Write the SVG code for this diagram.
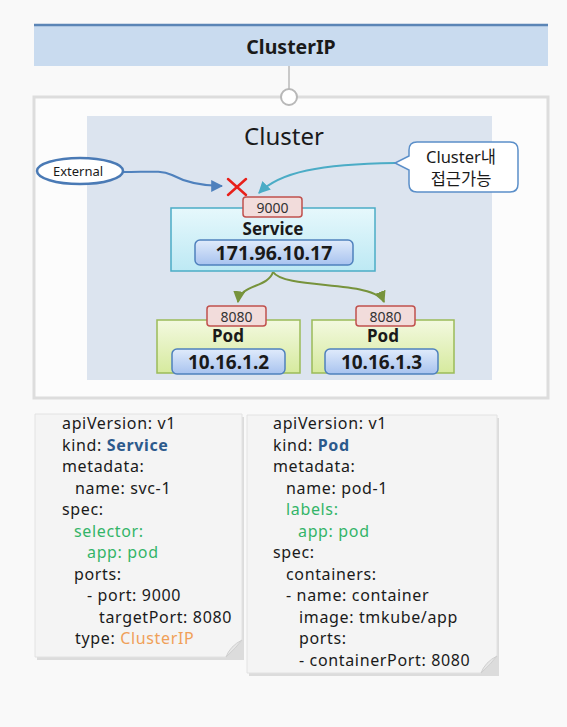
<svg xmlns="http://www.w3.org/2000/svg" width="567" height="727" viewBox="0 0 567 727">
<defs>
<style>
.t{font-family:"Noto Sans","Open Sans","Noto Sans CJK KR",sans-serif;fill:#1a1a1a}
.b{font-weight:bold}
.port{fill:#f2dcdb;stroke:#c0504d;stroke-width:1.5}
.porttxt{font-family:"Noto Sans",sans-serif;font-size:14px;fill:#333;text-anchor:middle}
.ip{stroke:#4f81bd;stroke-width:1.5}
.code{font-family:"Noto Sans","Open Sans",sans-serif;font-size:16px;letter-spacing:0.65px;fill:#1a1a1a}
.kw{fill:#2c5a8c;font-weight:bold}
.gr{fill:#33b468}
.or{fill:#f0a058}
.note{fill:#f4f4f4;stroke:#e2e2e2;stroke-width:1}
</style>
<linearGradient id="gSvc" x1="0" y1="0" x2="0" y2="1"><stop offset="0" stop-color="#e6f8fc"/><stop offset="1" stop-color="#bde9f4"/></linearGradient>
<linearGradient id="gIp" x1="0" y1="0" x2="0" y2="1"><stop offset="0" stop-color="#e0ebfb"/><stop offset="1" stop-color="#a8c3ef"/></linearGradient>
<linearGradient id="gPod" x1="0" y1="0" x2="0" y2="1"><stop offset="0" stop-color="#f3f9e0"/><stop offset="1" stop-color="#d6ea9e"/></linearGradient>
<marker id="aBlue" viewBox="0 0 10 10" refX="9" refY="5" markerWidth="6" markerHeight="6" orient="auto"><path d="M0,0 L10,5 L0,10 z" fill="#4f81bd"/></marker>
<marker id="aCyan" viewBox="0 0 10 10" refX="9" refY="5" markerWidth="6" markerHeight="6" orient="auto"><path d="M0,0 L10,5 L0,10 z" fill="#4bacc6"/></marker>
<marker id="aGreen" viewBox="0 0 10 10" refX="9" refY="5" markerWidth="6" markerHeight="6" orient="auto"><path d="M0,0 L10,5 L0,10 z" fill="#77933c"/></marker>
</defs>
<rect width="567" height="727" fill="#f9f9f9"/>

<g id="header">
<rect x="34" y="25" width="514" height="41" fill="#c9dbef"/>
<line x1="34" y1="25" x2="548" y2="25" stroke="#5b85b6" stroke-width="2.5"/>
<text class="t b" x="291" y="54" font-size="19.5" text-anchor="middle">ClusterIP</text>
</g>

<g id="outer">
<rect x="34" y="97" width="514" height="301" fill="#fcfcfc" stroke="#dddddd" stroke-width="3"/>
<rect x="87" y="116" width="405" height="264" fill="#dce4ef"/>
<text class="t" x="284" y="145" font-size="24" text-anchor="middle" fill="#222">Cluster</text>
</g>

<g id="connectors" fill="none" stroke-width="2">
<line x1="289" y1="66" x2="289" y2="89" stroke="#b8b8b8" stroke-width="1.5"/>
<path d="M123,172 C150,172 160,170 172,175 C185,182 200,186 222,186" stroke="#4f81bd" marker-end="url(#aBlue)"/>
<path d="M395,163 C320,164 280,172 259,193" stroke="#4bacc6" marker-end="url(#aCyan)"/>
<path d="M273,272 C268,288 240,284 238,302" stroke="#77933c" marker-end="url(#aGreen)"/>
<path d="M273,272 C285,290 375,280 384,302" stroke="#77933c" marker-end="url(#aGreen)"/>
</g>

<g id="hub">
<circle cx="289" cy="97" r="8" fill="#ffffff" stroke="#b8b8b8" stroke-width="2"/>
</g>

<g id="external">
<ellipse cx="80" cy="171" rx="43" ry="13" fill="#ffffff" stroke="#4a7ab5" stroke-width="2.5"/>
<text class="t" x="78" y="176" font-size="13" text-anchor="middle">External</text>
</g>

<g id="block-x" stroke="#e8201a" stroke-width="2.5" stroke-linecap="round">
<line x1="228" y1="179" x2="246" y2="195"/>
<line x1="246" y1="179" x2="228" y2="195"/>
</g>

<g id="callout">
<path d="M417,142 H510 Q518,142 518,150 V184 Q518,192 510,192 H417 Q409,192 409,184 V170 L395,163 L409,156 V150 Q409,142 417,142 Z" fill="#ffffff" stroke="#5b8fc9" stroke-width="1.5"/>
<text class="t" x="461" y="163" font-size="16.5" text-anchor="middle">Cluster내</text>
<text class="t" x="461" y="185" font-size="16.5" text-anchor="middle">접근가능</text>
</g>

<g id="service">
<rect x="171" y="208" width="204" height="63" fill="url(#gSvc)" stroke="#4bacc6" stroke-width="1.5"/>
<rect class="port" x="243" y="197" width="59" height="20" rx="3"/>
<text class="porttxt" x="272.5" y="212.5">9000</text>
<text class="t b" x="273" y="235" font-size="17" text-anchor="middle">Service</text>
<rect class="ip" x="195" y="240" width="158" height="25" rx="5" fill="url(#gIp)"/>
<text class="t b" x="274" y="260" font-size="19.5" text-anchor="middle">171.96.10.17</text>
</g>

<g id="pod1">
<rect x="157" y="320" width="143" height="53" fill="url(#gPod)" stroke="#9bbb59" stroke-width="1.5"/>
<rect class="port" x="207" y="306" width="59" height="20" rx="3"/>
<text class="porttxt" x="236.5" y="321.5">8080</text>
<text class="t b" x="228" y="342" font-size="17" text-anchor="middle">Pod</text>
<rect class="ip" x="172" y="349" width="113" height="25" rx="5" fill="url(#gIp)"/>
<text class="t b" x="228.5" y="369" font-size="19" text-anchor="middle">10.16.1.2</text>
</g>

<g id="pod2">
<rect x="312" y="320" width="142" height="53" fill="url(#gPod)" stroke="#9bbb59" stroke-width="1.5"/>
<rect class="port" x="356" y="306" width="59" height="20" rx="3"/>
<text class="porttxt" x="385.5" y="321.5">8080</text>
<text class="t b" x="383" y="342" font-size="17" text-anchor="middle">Pod</text>
<rect class="ip" x="325" y="349" width="113" height="25" rx="5" fill="url(#gIp)"/>
<text class="t b" x="381.5" y="369" font-size="19" text-anchor="middle">10.16.1.3</text>
</g>

<g id="svc-yaml">
<path d="M37,417 H244 V660 H37 Z" fill="#dcdcdc"/>
<path class="note" d="M35,414 H242 V640 L226,657 H35 Z"/>
<path d="M226,657 Q230,646 242,640 Q236,648 226,657 Z" fill="#e6e6e6" stroke="#cfcfcf" stroke-width="1"/>
<text class="code">
<tspan x="62" y="429">apiVersion: v1</tspan>
<tspan x="62" y="450.5">kind: <tspan class="kw">Service</tspan></tspan>
<tspan x="62" y="472">metadata:</tspan>
<tspan x="75" y="493.5">name: svc-1</tspan>
<tspan x="62" y="515">spec:</tspan>
<tspan x="74" y="536.5" class="gr">selector:</tspan>
<tspan x="87" y="558" class="gr">app: pod</tspan>
<tspan x="74" y="579.5">ports:</tspan>
<tspan x="87" y="601">- port: 9000</tspan>
<tspan x="99" y="622.5">targetPort: 8080</tspan>
<tspan x="75" y="644">type: <tspan class="or">ClusterIP</tspan></tspan>
</text>
</g>

<g id="pod-yaml">
<path d="M249,418 H499 V676 H249 Z" fill="#dcdcdc"/>
<path class="note" d="M247,415 H497 V656 L481,673 H247 Z"/>
<path d="M481,673 Q485,662 497,656 Q491,664 481,673 Z" fill="#e6e6e6" stroke="#cfcfcf" stroke-width="1"/>
<text class="code">
<tspan x="273" y="429">apiVersion: v1</tspan>
<tspan x="273" y="450.5">kind: <tspan class="kw">Pod</tspan></tspan>
<tspan x="273" y="472">metadata:</tspan>
<tspan x="286" y="493.5">name: pod-1</tspan>
<tspan x="286" y="515" class="gr">labels:</tspan>
<tspan x="298" y="536.5" class="gr">app: pod</tspan>
<tspan x="273" y="558">spec:</tspan>
<tspan x="286" y="579.5">containers:</tspan>
<tspan x="286" y="601">- name: container</tspan>
<tspan x="299" y="622.5">image: tmkube/app</tspan>
<tspan x="299" y="644">ports:</tspan>
<tspan x="299" y="665.5">- containerPort: 8080</tspan>
</text>
</g>
</svg>
